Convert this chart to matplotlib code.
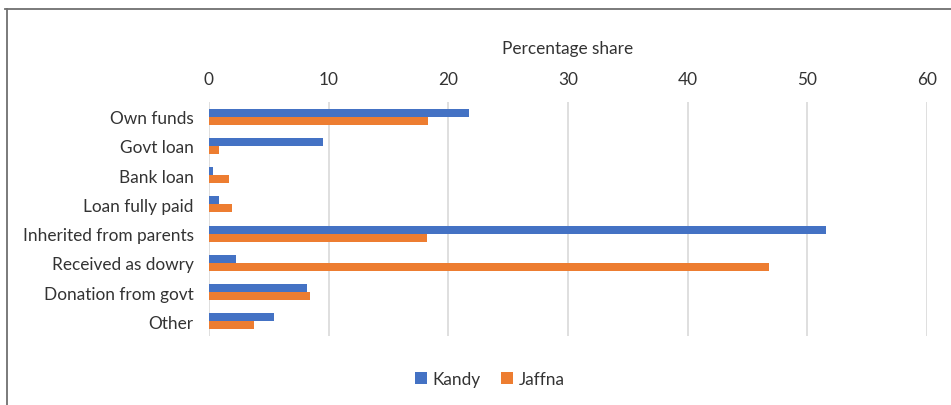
import matplotlib
matplotlib.use("Agg")
import matplotlib.pyplot as plt
import numpy as np
from matplotlib.lines import Line2D

categories = ["Own funds", "Govt loan", "Bank loan", "Loan fully paid",
              "Inherited from parents", "Received as dowry", "Donation from govt", "Other"]
kandy = [21.7, 9.55, 0.33, 0.83, 51.6, 2.25, 8.2, 5.4]
jaffna = [18.3, 0.83, 1.67, 1.9, 18.2, 46.8, 8.4, 3.8]
xticks = [0, 10, 20, 30, 40, 50, 60]

plt.rcParams['font.family'] = ['Lato', 'DejaVu Sans']
text_color = '#333333'
fs = 12.4

fig = plt.figure(figsize=(9.51, 4.06), dpi=100)
ax = fig.add_axes([209/951, 1-337/406, (927-209)/951, (337-103)/406])

y = np.arange(len(categories))
h = 0.27
ax.barh(y - h/2, kandy, height=h, color='#4472C4', label='Kandy', zorder=3)
ax.barh(y + h/2, jaffna, height=h, color='#ED7D31', label='Jaffna', zorder=3)

ax.set_ylim(len(categories) - 0.5, -0.5)
ax.set_xlim(0, 60)
ax.set_xticks(xticks)
ax.set_yticks(y)
ax.set_yticklabels(categories)
ax.xaxis.tick_top()
ax.xaxis.set_label_position('top')
ax.set_xlabel('Percentage share', fontsize=fs, color=text_color, labelpad=13)
ax.tick_params(axis='x', length=0, labelsize=fs, labelcolor=text_color, pad=10.5)
ax.tick_params(axis='y', length=0, labelsize=fs, labelcolor=text_color, pad=11)
ax.grid(axis='x', color='#d9d9d9', linewidth=1.2, zorder=0)
for s in ax.spines.values():
    s.set_visible(False)

leg = fig.legend(loc='center', bbox_to_anchor=(490/951, 1-380/406), ncol=2, frameon=False,
                 fontsize=fs, handlelength=0.65, handleheight=0.65, columnspacing=1.2,
                 handletextpad=0.35)
for t in leg.get_texts():
    t.set_color(text_color)

fig.add_artist(Line2D([5/951, 1], [1-10/406, 1-10/406], transform=fig.transFigure,
                      color='#707070', linewidth=1.3))
fig.add_artist(Line2D([7/951, 7/951], [1-10/406, 0], transform=fig.transFigure,
                      color='#707070', linewidth=1.3))

fig.savefig('out.png', dpi=100)
